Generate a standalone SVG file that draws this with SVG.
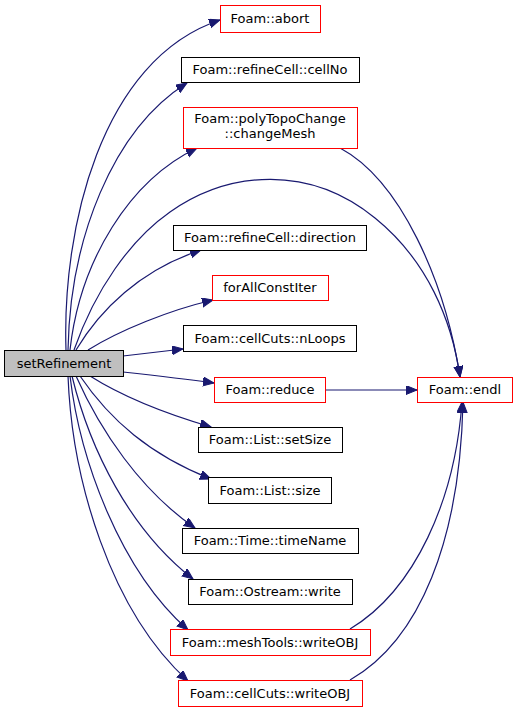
<svg xmlns="http://www.w3.org/2000/svg" width="517" height="712" viewBox="0 0 517 712">
<style>
.n rect{fill:#ffffff;stroke:#000000;stroke-width:1}
.r rect{fill:#ffffff;stroke:#ff0000;stroke-width:1}
.root rect{fill:#bfbfbf;stroke:#000000;stroke-width:1}
text{font-family:"DejaVu Sans",sans-serif;font-size:13px;fill:#000000;text-anchor:middle}
.e path{fill:none;stroke:#191970;stroke-width:1.2}
</style>
<defs>
<marker id="a" markerUnits="userSpaceOnUse" markerWidth="12" markerHeight="10" refX="11" refY="4.5" orient="auto">
<path d="M0,0 L11,4.5 L0,9 Z" fill="#191970" stroke="#191970" stroke-width="1"/>
</marker>
</defs>
<rect width="517" height="712" fill="#ffffff"/>
<g id="edges" class="e">
<path marker-end="url(#a)" d="M66,350 C62,230 100,60 220,20"/>
<path marker-end="url(#a)" d="M68,350 C70,240 112,130 187,83"/>
<path marker-end="url(#a)" d="M70,350 C80,260 130,180 197,148"/>
<path marker-end="url(#a)" d="M74,350 C95,290 130,240 170,212 C230,170 310,165 375,218 C427,260 452,320 460,377"/>
<path marker-end="url(#a)" d="M76,350 C100,310 140,270 201,250"/>
<path marker-end="url(#a)" d="M88,350 C120,330 170,310 213,300"/>
<path marker-end="url(#a)" d="M123,356 L183,349"/>
<path marker-end="url(#a)" d="M123,372 C150,375 185,379 214,383"/>
<path marker-end="url(#a)" d="M90,376 C120,395 160,412 211,427"/>
<path marker-end="url(#a)" d="M80,376 C110,420 150,455 211,479"/>
<path marker-end="url(#a)" d="M76,376 C100,430 140,490 195,528"/>
<path marker-end="url(#a)" d="M72,376 C90,450 130,530 193,579"/>
<path marker-end="url(#a)" d="M70,376 C80,460 120,570 188,630"/>
<path marker-end="url(#a)" d="M68,376 C72,480 110,610 188,681"/>
<path marker-end="url(#a)" d="M340,148 C400,180 445,280 460,377"/>
<path marker-end="url(#a)" d="M325,390 L417,390"/>
<path marker-end="url(#a)" d="M350,629 C415,590 455,500 462,402"/>
<path marker-end="url(#a)" d="M350,680 C420,640 460,540 463,402"/>
</g>
<g id="setRefinement" class="root"><rect x="4.5" y="350.5" width="119" height="26"/><text x="64" y="368">setRefinement</text></g>
<g id="abort" class="r"><rect x="220.5" y="5.5" width="100" height="27"/><text x="270" y="23">Foam::abort</text></g>
<g id="cellNo" class="n"><rect x="181.5" y="57.5" width="178" height="25"/><text x="270" y="74">Foam::refineCell::cellNo</text></g>
<g id="changeMesh" class="r"><rect x="183.5" y="107.5" width="174" height="41"/><text x="270" y="123">Foam::polyTopoChange</text><text x="270" y="138">::changeMesh</text></g>
<g id="direction" class="n"><rect x="173.5" y="225.5" width="193" height="25"/><text x="270" y="242">Foam::refineCell::direction</text></g>
<g id="forAllConstIter" class="r"><rect x="212.5" y="275.5" width="116" height="25"/><text x="270" y="292">forAllConstIter</text></g>
<g id="nLoops" class="n"><rect x="183.5" y="325.5" width="173" height="26"/><text x="270" y="343">Foam::cellCuts::nLoops</text></g>
<g id="reduce" class="r"><rect x="214.5" y="377.5" width="111" height="25"/><text x="270" y="394">Foam::reduce</text></g>
<g id="setSize" class="n"><rect x="198.5" y="427.5" width="144" height="25"/><text x="270" y="444">Foam::List::setSize</text></g>
<g id="size" class="n"><rect x="208.5" y="477.5" width="123" height="26"/><text x="270" y="495">Foam::List::size</text></g>
<g id="timeName" class="n"><rect x="182.5" y="528.5" width="176" height="25"/><text x="270" y="545">Foam::Time::timeName</text></g>
<g id="write" class="n"><rect x="188.5" y="579.5" width="164" height="25"/><text x="270" y="596">Foam::Ostream::write</text></g>
<g id="meshToolsWriteOBJ" class="r"><rect x="170.5" y="629.5" width="200" height="26"/><text x="270" y="647">Foam::meshTools::writeOBJ</text></g>
<g id="cellCutsWriteOBJ" class="r"><rect x="178.5" y="680.5" width="184" height="26"/><text x="270" y="698">Foam::cellCuts::writeOBJ</text></g>
<g id="endl" class="r"><rect x="417.5" y="377.5" width="95" height="25"/><text x="465" y="394">Foam::endl</text></g>
</svg>
